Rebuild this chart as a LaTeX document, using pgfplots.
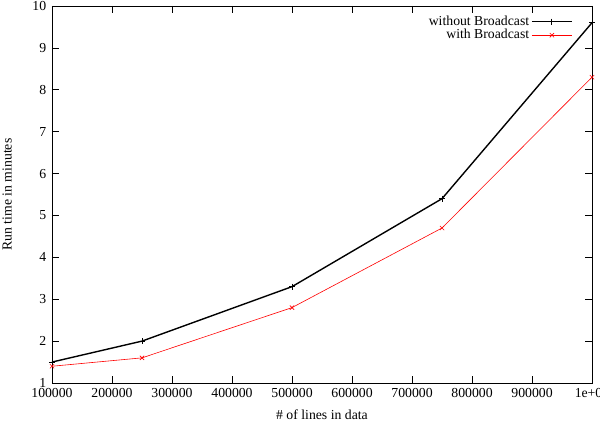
\documentclass[border=0pt]{standalone}
\usepackage{fontspec}
\setmainfont{Liberation Serif}
\usepackage{pgfplots}
\pgfplotsset{compat=1.18}
\begin{document}
\fontsize{13.8}{16}\selectfont
\begin{tikzpicture}
\begin{axis}[
  scale only axis,
  width=540bp, height=377bp,
  at={(0,0)}, anchor=south west,
  xmin=100000, xmax=1000000,
  ymin=1, ymax=10,
  xtick={100000,200000,300000,400000,500000,600000,700000,800000,900000,1000000},
  xticklabels={100000,200000,300000,400000,500000,600000,700000,800000,900000,1e+06},
  ytick={1,2,3,4,5,6,7,8,9,10},
  scaled x ticks=false,
  /pgf/number format/assume math mode=true,
  tick align=inside,
  major tick length=7bp,
  tick style={black, line width=0.6pt},
  axis line style={line width=0.8pt},
  xticklabel style={font=\fontsize{13.8}{16}\selectfont, yshift=-1bp},
  yticklabel style={font=\fontsize{13.8}{16}\selectfont, xshift=-1bp},
  xlabel={\# of lines in data},
  ylabel={Run time in minutes},
  label style={font=\fontsize{13.8}{16}\selectfont},
  xlabel style={at={(axis description cs:0.5,0)}, anchor=center, yshift=-32bp},
  ylabel style={at={(axis description cs:-0.083,0.5)}, anchor=center},
  legend style={draw=none, fill=none, at={(0.97,0.985)}, anchor=north east,
    font=\fontsize{13.8}{16}\selectfont, row sep=-2bp},
  legend cell align=right,
  legend plot pos=right,
  legend image code/.code={\draw[#1] (0bp,0bp) -- (20bp,0bp) plot coordinates {(20bp,0bp)} -- (40bp,0bp);},
]
\addplot[black, line width=1.4pt, mark=+, mark size=3bp, mark options={line width=1pt}] coordinates {
 (100000,1.5) (250000,2.0) (500000,3.3) (750000,5.4) (1000000,9.6)};
\addlegendentry{without Broadcast}
\addplot[red, line width=0.6pt, mark=x, mark size=3bp] coordinates {
 (100000,1.4) (250000,1.6) (500000,2.8) (750000,4.7) (1000000,8.3)};
\addlegendentry{with Broadcast}
\end{axis}
\pgfresetboundingbox
\path[use as bounding box] (-52bp,-42bp) rectangle (548bp,383bp);
\end{tikzpicture}
\end{document}
